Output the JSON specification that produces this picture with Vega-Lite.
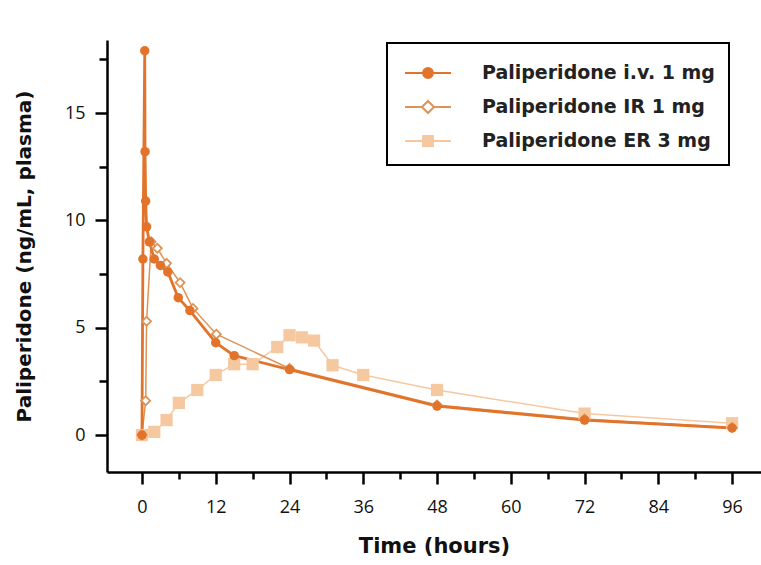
{
  "$schema": "https://vega.github.io/schema/vega-lite/v6.json",
  "width": 654,
  "height": 432,
  "autosize": {"type": "none"},
  "padding": {"left": 107, "top": 40, "right": 0, "bottom": 93},
  "background": "white",
  "config": {
    "view": {"stroke": null},
    "font": "DejaVu Sans",
    "axis": {
      "grid": false,
      "domainColor": "black",
      "domainWidth": 2.5,
      "tickColor": "black",
      "tickWidth": 2.5,
      "labelColor": "#111",
      "titleColor": "#111",
      "labelFont": "Open Sans",
      "labelFontSize": 18,
      "titleFont": "DejaVu Sans",
      "titleFontWeight": "bold",
      "titleFontSize": 21
    }
  },
  "data": {
    "values": [
      {"series": "Paliperidone i.v. 1 mg", "t": 0, "c": 0},
      {"series": "Paliperidone i.v. 1 mg", "t": 0.15, "c": 8.2},
      {"series": "Paliperidone i.v. 1 mg", "t": 0.45, "c": 17.9},
      {"series": "Paliperidone i.v. 1 mg", "t": 0.5, "c": 13.2},
      {"series": "Paliperidone i.v. 1 mg", "t": 0.6, "c": 10.9},
      {"series": "Paliperidone i.v. 1 mg", "t": 0.75, "c": 9.7},
      {"series": "Paliperidone i.v. 1 mg", "t": 1.2, "c": 9.0},
      {"series": "Paliperidone i.v. 1 mg", "t": 2, "c": 8.2},
      {"series": "Paliperidone i.v. 1 mg", "t": 3, "c": 7.9},
      {"series": "Paliperidone i.v. 1 mg", "t": 4.2, "c": 7.6},
      {"series": "Paliperidone i.v. 1 mg", "t": 5.9, "c": 6.4},
      {"series": "Paliperidone i.v. 1 mg", "t": 7.8, "c": 5.8},
      {"series": "Paliperidone i.v. 1 mg", "t": 12, "c": 4.3},
      {"series": "Paliperidone i.v. 1 mg", "t": 15, "c": 3.7},
      {"series": "Paliperidone i.v. 1 mg", "t": 24, "c": 3.05},
      {"series": "Paliperidone i.v. 1 mg", "t": 48, "c": 1.35},
      {"series": "Paliperidone i.v. 1 mg", "t": 72, "c": 0.7},
      {"series": "Paliperidone i.v. 1 mg", "t": 96, "c": 0.33},
      {"series": "Paliperidone IR 1 mg", "t": 0, "c": 0},
      {"series": "Paliperidone IR 1 mg", "t": 0.6, "c": 1.6},
      {"series": "Paliperidone IR 1 mg", "t": 0.75, "c": 5.3},
      {"series": "Paliperidone IR 1 mg", "t": 1.5, "c": 9.0},
      {"series": "Paliperidone IR 1 mg", "t": 2.5, "c": 8.7},
      {"series": "Paliperidone IR 1 mg", "t": 4, "c": 8.0},
      {"series": "Paliperidone IR 1 mg", "t": 6.2, "c": 7.1},
      {"series": "Paliperidone IR 1 mg", "t": 8.3, "c": 5.9},
      {"series": "Paliperidone IR 1 mg", "t": 12.1, "c": 4.7},
      {"series": "Paliperidone IR 1 mg", "t": 24, "c": 3.1},
      {"series": "Paliperidone IR 1 mg", "t": 48, "c": 1.4},
      {"series": "Paliperidone IR 1 mg", "t": 72, "c": 0.75},
      {"series": "Paliperidone IR 1 mg", "t": 96, "c": 0.35},
      {"series": "Paliperidone ER 3 mg", "t": 0, "c": 0},
      {"series": "Paliperidone ER 3 mg", "t": 2, "c": 0.15},
      {"series": "Paliperidone ER 3 mg", "t": 4, "c": 0.7},
      {"series": "Paliperidone ER 3 mg", "t": 6, "c": 1.5},
      {"series": "Paliperidone ER 3 mg", "t": 9, "c": 2.1},
      {"series": "Paliperidone ER 3 mg", "t": 12, "c": 2.8},
      {"series": "Paliperidone ER 3 mg", "t": 15, "c": 3.3},
      {"series": "Paliperidone ER 3 mg", "t": 18, "c": 3.3},
      {"series": "Paliperidone ER 3 mg", "t": 22, "c": 4.1},
      {"series": "Paliperidone ER 3 mg", "t": 24, "c": 4.65},
      {"series": "Paliperidone ER 3 mg", "t": 26, "c": 4.55},
      {"series": "Paliperidone ER 3 mg", "t": 28, "c": 4.4},
      {"series": "Paliperidone ER 3 mg", "t": 31, "c": 3.25},
      {"series": "Paliperidone ER 3 mg", "t": 36, "c": 2.8},
      {"series": "Paliperidone ER 3 mg", "t": 48, "c": 2.1},
      {"series": "Paliperidone ER 3 mg", "t": 72, "c": 1.0},
      {"series": "Paliperidone ER 3 mg", "t": 96, "c": 0.55}
    ]
  },
  "encoding": {
    "x": {
      "field": "t",
      "type": "quantitative",
      "scale": {"domain": [-5.69, 100.7], "nice": false, "zero": false},
      "axis": {
        "title": "Time (hours)",
        "values": [0, 6, 12, 18, 24, 30, 36, 42, 48, 54, 60, 66, 72, 78, 84, 90, 96],
        "labelExpr": "datum.value % 12 === 0 ? datum.label : ''",
        "tickSize": {"condition": {"test": "datum.value % 12 === 0", "value": 12}, "value": 7},
        "labelPadding": 14,
        "titlePadding": 19
      }
    },
    "y": {
      "field": "c",
      "type": "quantitative",
      "scale": {"domain": [-1.72, 18.4], "nice": false, "zero": false},
      "axis": {
        "title": "Paliperidone (ng/mL, plasma)",
        "titleFontSize": 20,
        "values": [0, 2.5, 5, 7.5, 10, 12.5, 15, 17.5],
        "labelExpr": "datum.value % 5 === 0 ? datum.label : ''",
        "tickSize": {"condition": {"test": "datum.value % 5 === 0", "value": 12}, "value": 8},
        "labelPadding": 10,
        "titlePadding": 30
      }
    }
  },
  "layer": [
    {
      "transform": [{"filter": "datum.series === 'Paliperidone ER 3 mg'"}],
      "mark": {"type": "line", "strokeWidth": 1.5},
      "encoding": {
        "color": {
          "field": "series",
          "type": "nominal",
          "scale": {
            "domain": ["Paliperidone i.v. 1 mg", "Paliperidone IR 1 mg", "Paliperidone ER 3 mg"],
            "range": ["#E2732A", "#DE9256", "#F6C8A0"]
          },
          "legend": {
            "title": null,
            "orient": "none",
            "legendX": 280,
            "legendY": 3,
            "strokeColor": "black",
            "fillColor": "white",
            "padding": 14,
            "symbolSize": 900,
            "symbolStrokeWidth": 2,
            "symbolOffset": 11,
            "labelFont": "DejaVu Sans",
            "labelFontWeight": "bold",
            "labelFontSize": 19,
            "labelColor": "#222",
            "labelOffset": 38,
            "rowPadding": 8,
            "labelLimit": 400,
            "encode": {
              "legend": {"update": {"strokeWidth": {"value": 2}}},
              "symbols": {
                "update": {
                  "shape": {"signal": "datum.value === 'Paliperidone i.v. 1 mg' ? 'M-1.53,0H-0.33M0.33,0H1.53M-0.33,0A0.33,0.33,0,1,0,0.33,0A0.33,0.33,0,1,0,-0.33,0Z' : datum.value === 'Paliperidone IR 1 mg' ? 'M-1.53,0H-0.4M0.4,0H1.53M0,-0.4L0.4,0L0,0.4L-0.4,0Z' : 'M-1.53,0H-0.33M0.33,0H1.53M-0.33,-0.33H0.33V0.33H-0.33Z'"},
                  "fill": {"signal": "datum.value === 'Paliperidone i.v. 1 mg' ? '#E2732A' : datum.value === 'Paliperidone IR 1 mg' ? 'white' : '#F6C8A0'"},
                  "size": {"value": 900},
                  "strokeWidth": {"value": 2}
                }
              }
            }
          }
        }
      }
    },
    {
      "transform": [{"filter": "datum.series === 'Paliperidone IR 1 mg'"}],
      "mark": {"type": "line", "strokeWidth": 1.5},
      "encoding": {"color": {"field": "series", "type": "nominal"}}
    },
    {
      "transform": [{"filter": "datum.series === 'Paliperidone i.v. 1 mg'"}],
      "mark": {"type": "line", "strokeWidth": 2.8},
      "encoding": {"color": {"field": "series", "type": "nominal"}}
    },
    {
      "transform": [{"filter": "datum.series === 'Paliperidone ER 3 mg'"}],
      "mark": {"type": "point", "shape": "square", "filled": true, "size": 150, "color": "#F6C8A0", "opacity": 1},
      "encoding": {}
    },
    {
      "transform": [{"filter": "datum.series === 'Paliperidone IR 1 mg'"}],
      "mark": {"type": "point", "shape": "diamond", "filled": true, "fill": "white", "stroke": "#DE9256", "strokeWidth": 1.8, "size": 80, "opacity": 1},
      "encoding": {}
    },
    {
      "transform": [{"filter": "datum.series === 'Paliperidone i.v. 1 mg'"}],
      "mark": {"type": "point", "shape": "circle", "filled": true, "size": 90, "color": "#E2732A", "opacity": 1},
      "encoding": {}
    }
  ]
}
